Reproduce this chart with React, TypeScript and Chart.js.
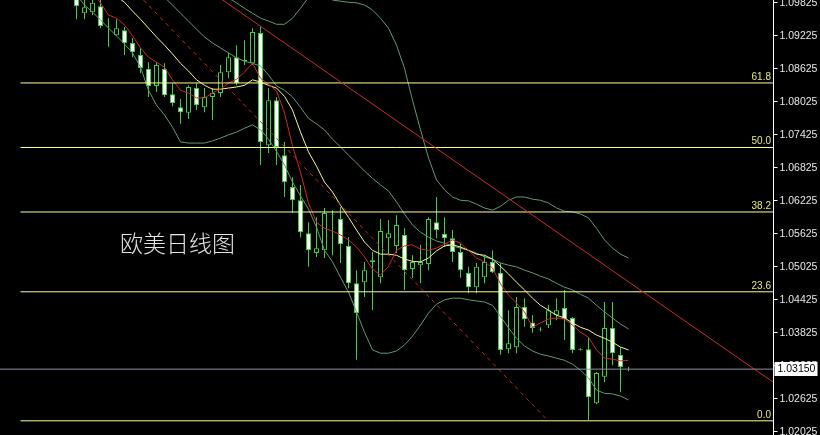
import React, { useEffect, useRef } from 'react';
import { Chart, registerables } from 'chart.js';

Chart.register(...registerables);

// ---- Daily EUR/USD candles (index 0 = first visible bar) ----
const open = [
  1.0990, 1.0962, 1.0964, 1.0975, 1.0939, 1.0922, 1.0931, 1.0908, 1.0886, 1.0861,
  1.0830, 1.0861, 1.0815, 1.0791, 1.0781, 1.0826, 1.0791, 1.0810, 1.0817, 1.0855,
  1.0882, 1.0877, 1.0871, 1.0926, 1.0722, 1.0804, 1.0704, 1.0646, 1.0622, 1.0562,
  1.0526, 1.0531, 1.0597, 1.0588, 1.0539, 1.0471, 1.0473, 1.0510, 1.0482, 1.0553,
  1.0539, 1.0559, 1.0497, 1.0504, 1.0506, 1.0582, 1.0561, 1.0553, 1.0528, 1.0490,
  1.0464, 1.0482, 1.0510, 1.0490, 1.0351, 1.0355, 1.0428, 1.0400, 1.0388, 1.0395,
  1.0413, 1.0426, 1.0408, 1.0351, 1.0351, 1.0253, 1.0301, 1.0390, 1.0341, 1.0315,
];
const high = [
  1.0997, 1.0986, 1.0990, 1.0986, 1.0953, 1.0951, 1.0937, 1.0917, 1.0899, 1.0873,
  1.0873, 1.0871, 1.0835, 1.0806, 1.0831, 1.0835, 1.0826, 1.0826, 1.0868, 1.0890,
  1.0904, 1.0913, 1.0935, 1.0937, 1.0826, 1.0810, 1.0728, 1.0664, 1.0650, 1.0582,
  1.0591, 1.0608, 1.0604, 1.0610, 1.0555, 1.0495, 1.0510, 1.0528, 1.0588, 1.0586,
  1.0595, 1.0571, 1.0522, 1.0541, 1.0591, 1.0628, 1.0591, 1.0568, 1.0544, 1.0501,
  1.0508, 1.0522, 1.0531, 1.0508, 1.0422, 1.0446, 1.0444, 1.0413, 1.0391, 1.0431,
  1.0444, 1.0459, 1.0410, 1.0353, 1.0373, 1.0310, 1.0437, 1.0437, 1.0355, 1.0319,
];
const low = [
  1.0951, 1.0951, 1.0959, 1.0935, 1.0901, 1.0921, 1.0886, 1.0882, 1.0853, 1.0810,
  1.0819, 1.0810, 1.0793, 1.0761, 1.0770, 1.0786, 1.0782, 1.0768, 1.0810, 1.0844,
  1.0831, 1.0868, 1.0868, 1.0686, 1.0708, 1.0686, 1.0628, 1.0599, 1.0555, 1.0501,
  1.0519, 1.0517, 1.0522, 1.0508, 1.0462, 1.0332, 1.0446, 1.0422, 1.0471, 1.0522,
  1.0526, 1.0459, 1.0481, 1.0471, 1.0495, 1.0553, 1.0537, 1.0510, 1.0481, 1.0453,
  1.0453, 1.0471, 1.0490, 1.0341, 1.0344, 1.0344, 1.0392, 1.0381, 1.0384, 1.0390,
  1.0404, 1.0368, 1.0344, 1.0349, 1.0222, 1.0251, 1.0291, 1.0322, 1.0273, 1.0311,
];
const close = [
  1.0975, 1.0973, 1.0981, 1.0939, 1.0938, 1.0935, 1.0908, 1.0891, 1.0862, 1.0830,
  1.0868, 1.0813, 1.0799, 1.0782, 1.0828, 1.0795, 1.0810, 1.0817, 1.0855, 1.0882,
  1.0835, 1.0875, 1.0928, 1.0728, 1.0804, 1.0719, 1.0655, 1.0622, 1.0564, 1.0531,
  1.0535, 1.0599, 1.0596, 1.0542, 1.0471, 1.0417, 1.0495, 1.0513, 1.0566, 1.0562,
  1.0577, 1.0495, 1.0510, 1.0510, 1.0588, 1.0568, 1.0553, 1.0528, 1.0495, 1.0464,
  1.0501, 1.0510, 1.0491, 1.0350, 1.0362, 1.0428, 1.0406, 1.0390, 1.0387, 1.0422,
  1.0422, 1.0406, 1.0350, 1.0350, 1.0264, 1.0308, 1.0390, 1.0344, 1.0319, 1.03148,
];

// ---- Moving averages ----
const maFast = [
  1.1041, 1.1022, 1.1001, 1.0981, 1.0959, 1.0953, 1.0941, 1.0921, 1.0899, 1.0882,
  1.0873, 1.0864, 1.0841, 1.0822, 1.0817, 1.0808, 1.0808, 1.0817, 1.0824, 1.0835,
  1.0842, 1.0855, 1.0871, 1.0844, 1.0833, 1.0821, 1.0781, 1.0721, 1.0673, 1.0617,
  1.0582, 1.0571, 1.0566, 1.0559, 1.0550, 1.0537, 1.0519, 1.0497, 1.0486, 1.0502,
  1.0531, 1.0539, 1.0541, 1.0533, 1.0531, 1.0535, 1.0542, 1.0550, 1.0544, 1.0531,
  1.0517, 1.0510, 1.0499, 1.0470, 1.0450, 1.0435, 1.0419, 1.0391, 1.0399, 1.0406,
  1.0408, 1.0406, 1.0395, 1.0382, 1.0373, 1.0350, 1.0335, 1.0333, 1.0330, 1.0331,
];
const maSlow = [
  1.1059, 1.1044, 1.1031, 1.1019, 1.1004, 1.0993, 1.0982, 1.0966, 1.0951, 1.0935,
  1.0919, 1.0904, 1.0888, 1.0871, 1.0857, 1.0841, 1.0831, 1.0824, 1.0824, 1.0826,
  1.0828, 1.0831, 1.0841, 1.0837, 1.0831, 1.0826, 1.0811, 1.0786, 1.0746, 1.0710,
  1.0684, 1.0655, 1.0637, 1.0613, 1.0591, 1.0568, 1.0546, 1.0531, 1.0524, 1.0524,
  1.0522, 1.0515, 1.0511, 1.0510, 1.0517, 1.0530, 1.0539, 1.0541, 1.0537, 1.0531,
  1.0524, 1.0522, 1.0515, 1.0502, 1.0488, 1.0473, 1.0459, 1.0444, 1.0431, 1.0422,
  1.0413, 1.0408, 1.0399, 1.0391, 1.0386, 1.0377, 1.0371, 1.0364, 1.0355, 1.0350,
];

// ---- Bollinger bands ----
const bbUpper = [
  1.1204, 1.1195, 1.1186, 1.1177, 1.1168, 1.1159, 1.1150, 1.1141, 1.1131, 1.1122,
  1.1113, 1.1102, 1.1091, 1.1081, 1.1068, 1.1055, 1.1041, 1.1022, 1.1006, 1.0990,
  1.0981, 1.0971, 1.0962, 1.0953, 1.0948, 1.0942, 1.0942, 1.0953, 1.0971, 1.0991,
  1.1004, 1.1001, 1.0986, 1.0984, 1.0982, 1.0981, 1.0977, 1.0968, 1.0953, 1.0935,
  1.0904, 1.0862, 1.0804, 1.0750, 1.0699, 1.0659, 1.0641, 1.0628, 1.0622, 1.0621,
  1.0615, 1.0608, 1.0604, 1.0611, 1.0622, 1.0628, 1.0628, 1.0624, 1.0622, 1.0617,
  1.0608, 1.0602, 1.0601, 1.0597, 1.0590, 1.0571, 1.0550, 1.0535, 1.0524, 1.0517,
];
const bbMid = [
  1.1151, 1.1137, 1.1122, 1.1108, 1.1093, 1.1079, 1.1064, 1.1050, 1.1035, 1.1021,
  1.1006, 1.0991, 1.0977, 1.0962, 1.0948, 1.0933, 1.0919, 1.0908, 1.0899, 1.0890,
  1.0881, 1.0875, 1.0871, 1.0866, 1.0850, 1.0830, 1.0822, 1.0810, 1.0791, 1.0771,
  1.0761, 1.0750, 1.0733, 1.0719, 1.0704, 1.0690, 1.0675, 1.0662, 1.0650, 1.0639,
  1.0619, 1.0597, 1.0577, 1.0564, 1.0555, 1.0548, 1.0544, 1.0539, 1.0535, 1.0531,
  1.0526, 1.0519, 1.0515, 1.0508, 1.0504, 1.0501, 1.0495, 1.0490, 1.0484, 1.0479,
  1.0471, 1.0464, 1.0459, 1.0451, 1.0444, 1.0431, 1.0419, 1.0408, 1.0397, 1.0388,
];
const bbLower = [
  1.0995, 1.0977, 1.0964, 1.0950, 1.0935, 1.0921, 1.0906, 1.0890, 1.0864, 1.0822,
  1.0795, 1.0777, 1.0755, 1.0728, 1.0726, 1.0726, 1.0726, 1.0730, 1.0735, 1.0741,
  1.0746, 1.0753, 1.0759, 1.0750, 1.0733, 1.0711, 1.0686, 1.0655, 1.0630, 1.0606,
  1.0573, 1.0531, 1.0510, 1.0482, 1.0455, 1.0419, 1.0382, 1.0350, 1.0344, 1.0344,
  1.0348, 1.0359, 1.0375, 1.0395, 1.0417, 1.0433, 1.0441, 1.0444, 1.0444, 1.0441,
  1.0439, 1.0437, 1.0431, 1.0411, 1.0390, 1.0371, 1.0357, 1.0348, 1.0342, 1.0339,
  1.0335, 1.0331, 1.0324, 1.0313, 1.0299, 1.0277, 1.0271, 1.0270, 1.0266, 1.0259,
];

// ---- Drawn objects ----
const trendSolidX = [17, 87.2];
const trendSolidY = [1.0999, 1.0290];
const trendDashX = [7, 58.625];
const trendDashY = [1.1007, 1.0226];
const fibLow = 1.0221;
const fibHigh = 1.1215;
const fibRatios = [0, 0.236, 0.382, 0.5, 0.618];
const fibLabels = ['0.0', '23.6', '38.2', '50.0', '61.8'];
const fibStartX = -7;
const currentPrice = 1.0315;
const yTicks = [
  1.02025, 1.02625, 1.03225, 1.03825, 1.04425, 1.05025, 1.05625,
  1.06225, 1.06825, 1.07425, 1.08025, 1.08625, 1.09225, 1.09825,
];
const titleText = '欧美日线图';

const X_MIN = -9.5625;
const X_MAX = 87.0625;
const Y_MIN = 1.019523;
const Y_MAX = 1.098614;

const GREEN = '#33d633';
const TICK_FONT = '10.5px "Liberation Sans", Arial, sans-serif';

const overlayPlugin = {
  id: 'mt4Overlay',
  beforeDraw(chart: any) {
    const ctx = chart.ctx;
    ctx.save();
    ctx.fillStyle = '#000';
    ctx.fillRect(0, 0, chart.width, chart.height);
    ctx.restore();
  },
  afterDraw(chart: any) {
    const ctx = chart.ctx;
    const area = chart.chartArea;
    const ys = chart.scales.y;
    ctx.save();
    // Axis line
    const ax = Math.round(area.right) + 0.5;
    ctx.strokeStyle = '#ffffff';
    ctx.lineWidth = 1;
    ctx.beginPath();
    ctx.moveTo(ax, 0);
    ctx.lineTo(ax, chart.height);
    ctx.stroke();
    // Ticks + labels
    ctx.font = TICK_FONT;
    ctx.textBaseline = 'middle';
    ctx.textAlign = 'left';
    yTicks.forEach((v) => {
      const y = Math.round(ys.getPixelForValue(v)) + 0.5;
      ctx.strokeStyle = '#ffffff';
      ctx.beginPath();
      ctx.moveTo(ax, y);
      ctx.lineTo(ax + 4, y);
      ctx.stroke();
      ctx.fillStyle = '#e6e6e6';
      ctx.fillText(v.toFixed(5), ax + 6, y + 0.5);
    });
    // Fib labels
    ctx.font = '10px "Liberation Sans", Arial, sans-serif';
    ctx.textAlign = 'right';
    ctx.textBaseline = 'bottom';
    ctx.fillStyle = '#e8e874';
    fibRatios.forEach((r, k) => {
      const y = ys.getPixelForValue(fibLow + (fibHigh - fibLow) * r);
      ctx.fillText(fibLabels[k], area.right - 2, y - 1);
    });
    // Current price box
    const py = Math.round(ys.getPixelForValue(currentPrice));
    ctx.fillStyle = '#ffffff';
    ctx.fillRect(ax + 1, py - 7, 43, 14);
    ctx.fillStyle = '#000000';
    ctx.font = TICK_FONT;
    ctx.textAlign = 'left';
    ctx.textBaseline = 'middle';
    ctx.fillText(currentPrice.toFixed(5), ax + 4, py + 0.5);
    // Title
    ctx.font = '300 23px "Noto Sans CJK SC", sans-serif';
    ctx.fillStyle = '#e4e4e4';
    ctx.textAlign = 'left';
    ctx.textBaseline = 'middle';
    ctx.fillText(titleText, 120, 243);
    ctx.restore();
  },
};

export default function App() {
  const ref = useRef<HTMLCanvasElement>(null);
  useEffect(() => {
    document.body.style.margin = '0';
    document.body.style.background = '#000';
    if (!ref.current) return;
    const wicks: any[] = [];
    const bull: any[] = [];
    const bear: any[] = [];
    open.forEach((o, i) => {
      wicks.push({ x: i, y: [low[i], high[i]] });
      if (close[i] >= o) bull.push({ x: i, y: [o, close[i]] });
      else bear.push({ x: i, y: [close[i], o] });
    });
    const series = (arr: number[]) => arr.map((v, i) => ({ x: i, y: v }));
    const lineBase = {
      type: 'line' as const,
      pointRadius: 0,
      borderWidth: 1,
      tension: 0,
      fill: false,
    };
    const fibSets = fibRatios.map((r) => {
      const p = fibLow + (fibHigh - fibLow) * r;
      return {
        ...lineBase,
        data: [{ x: fibStartX, y: p }, { x: X_MAX, y: p }],
        borderColor: '#ffff96',
        order: 3,
      };
    });
    const chart = new Chart(ref.current, {
      type: 'bar',
      data: {
        datasets: [
          {
            type: 'bar',
            data: wicks,
            backgroundColor: GREEN,
            borderWidth: 0,
            barThickness: 1,
            grouped: false,
            inflateAmount: 0,
            order: 20,
          } as any,
          {
            type: 'bar',
            data: bear,
            backgroundColor: '#ffffff',
            borderColor: GREEN,
            borderWidth: 1,
            borderSkipped: false,
            barThickness: 5,
            grouped: false,
            inflateAmount: 0,
            order: 19,
          } as any,
          {
            type: 'bar',
            data: bull,
            backgroundColor: '#000000',
            borderColor: GREEN,
            borderWidth: 1,
            borderSkipped: false,
            barThickness: 5,
            grouped: false,
            inflateAmount: 0,
            order: 18,
          } as any,
          { ...lineBase, data: series(bbUpper), borderColor: '#5f9a72', order: 8 },
          { ...lineBase, data: series(bbMid), borderColor: '#5f9a72', order: 8 },
          { ...lineBase, data: series(bbLower), borderColor: '#5f9a72', order: 8 },
          { ...lineBase, data: series(maSlow), borderColor: '#f6f688', order: 6 },
          { ...lineBase, data: series(maFast), borderColor: '#d42424', order: 5 },
          ...fibSets,
          {
            ...lineBase,
            data: trendSolidX.map((x, k) => ({ x, y: trendSolidY[k] })),
            borderColor: '#cc2a2a',
            order: 2,
          },
          {
            ...lineBase,
            data: trendDashX.map((x, k) => ({ x, y: trendDashY[k] })),
            borderColor: '#c42a2a',
            borderDash: [4, 4],
            order: 2,
          },
          {
            ...lineBase,
            data: [{ x: X_MIN, y: currentPrice }, { x: X_MAX, y: currentPrice }],
            borderColor: '#8e8ea4',
            order: 1,
          },
        ] as any,
      },
      options: {
        responsive: false,
        animation: false,
        devicePixelRatio: 1,
        events: [],
        layout: { padding: { left: 0, top: 0, right: 47, bottom: 0 } },
        plugins: { legend: { display: false }, tooltip: { enabled: false } },
        scales: {
          x: { type: 'linear', display: false, min: X_MIN, max: X_MAX, offset: false },
          y: { type: 'linear', display: false, min: Y_MIN, max: Y_MAX },
        },
      } as any,
      plugins: [overlayPlugin],
    });
    return () => chart.destroy();
  }, []);
  return (
    <div style={{ position: 'fixed', left: 0, top: 0, width: 820, height: 435, background: '#000' }}>
      <canvas ref={ref} width={820} height={435} style={{ display: 'block' }} />
    </div>
  );
}
